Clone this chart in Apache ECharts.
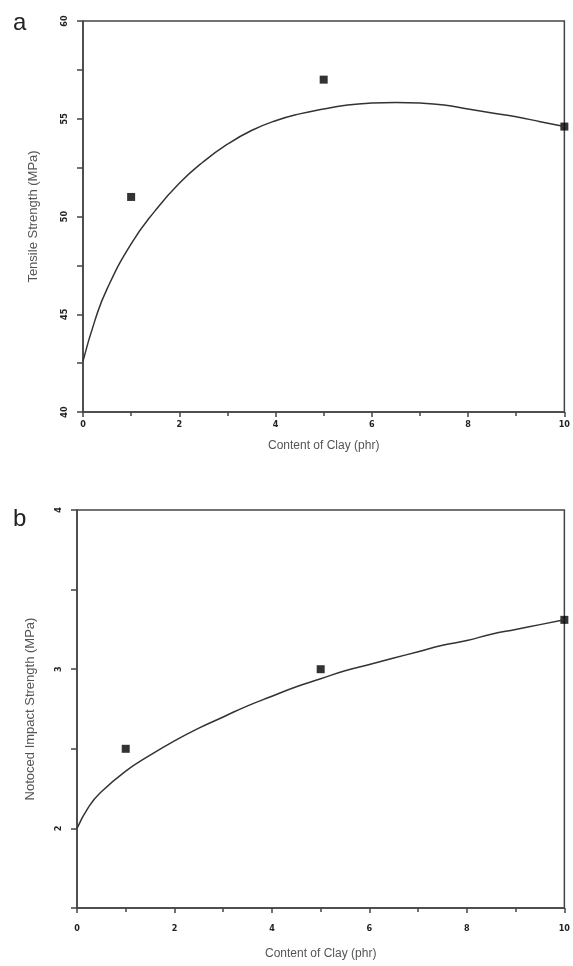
<!DOCTYPE html>
<html>
<head>
<meta charset="utf-8">
<script src="https://cdn.jsdelivr.net/npm/echarts@6/dist/echarts.min.js"></script>
<style>
  html, body { margin: 0; padding: 0; background: #fff; }
  #main { width: 573px; height: 966px; }
</style>
</head>
<body>
<div id="main"></div>
<script>
// panel a: tensile strength
const pointsAX = [1, 5, 10];
const pointsAY = [51.0, 57.0, 54.6];
const curveAX = [0, 0.25, 0.5, 1, 1.5, 2, 2.5, 3, 3.5, 4, 4.5, 5, 5.5, 6, 6.5, 7, 7.5, 8, 8.5, 9, 9.5, 10];
const curveAY = [42.6, 44.7, 46.3, 48.6, 50.3, 51.7, 52.8, 53.7, 54.4, 54.9, 55.25, 55.5, 55.7, 55.8, 55.83, 55.8, 55.7, 55.5, 55.3, 55.1, 54.85, 54.6];

// panel b: notched impact strength
const pointsBX = [1, 5, 10];
const pointsBY = [2.5, 3.0, 3.31];
const curveBX = [0, 0.25, 0.5, 1, 1.5, 2, 2.5, 3, 3.5, 4, 4.5, 5, 5.5, 6, 6.5, 7, 7.5, 8, 8.5, 9, 9.5, 10];
const curveBY = [2.0, 2.14, 2.23, 2.36, 2.46, 2.55, 2.63, 2.7, 2.77, 2.83, 2.89, 2.94, 2.99, 3.03, 3.07, 3.11, 3.15, 3.18, 3.22, 3.25, 3.28, 3.31];

const xTicks = { min: 0, max: 10, interval: 2 };

const zip = (xs, ys) => xs.map((x, i) => [x, ys[i]]);

const chart = echarts.init(document.getElementById("main"));

const axisColor = "#444";
const labelStyle = {
  color: "#222",
  fontSize: 9,
  fontWeight: "bold",
  fontFamily: "DejaVu Sans Condensed"
};
const titleStyle = {
  color: "#555",
  fontSize: 13,
  fontFamily: "Liberation Sans"
};

function xAxis(gridIndex, gap, labelMargin) {
  return {
    type: "value",
    gridIndex: gridIndex,
    min: xTicks.min,
    max: xTicks.max,
    interval: xTicks.interval,
    name: "Content of Clay (phr)",
    nameLocation: "middle",
    nameGap: gap,
    nameTextStyle: Object.assign({}, titleStyle, { fontSize: 12 }),
    axisLine: { show: true, lineStyle: { color: axisColor, width: 1.5 } },
    axisTick: { show: true, length: 5, lineStyle: { color: axisColor, width: 1.5 } },
    minorTick: { show: true, splitNumber: 2, length: 4, lineStyle: { color: axisColor, width: 1.5 } },
    axisLabel: Object.assign({ margin: labelMargin }, labelStyle),
    splitLine: { show: false }
  };
}

// y axis: ticks every half step, labels only on the given step
function yAxis(gridIndex, min, max, step, name, gap) {
  return {
    type: "value",
    gridIndex: gridIndex,
    min: min,
    max: max,
    interval: step / 2,
    name: name,
    nameLocation: "middle",
    nameGap: gap,
    nameTextStyle: titleStyle,
    axisLine: { show: true, lineStyle: { color: axisColor, width: 1.5 } },
    axisTick: { show: true, length: 6, lineStyle: { color: axisColor, width: 1.5 } },
    axisLabel: Object.assign({
      margin: 14,
      rotate: 90,
      formatter: v => (Math.abs(v / step - Math.round(v / step)) < 1e-6 ? String(v) : "")
    }, labelStyle),
    splitLine: { show: false }
  };
}

const option = {
  backgroundColor: "#fff",
  animation: false,
  title: [
    { text: "a", left: 8, top: 6, textStyle: { fontSize: 24, fontWeight: "normal", color: "#222", fontFamily: "Liberation Sans" } },
    { text: "b", left: 8, top: 502, textStyle: { fontSize: 24, fontWeight: "normal", color: "#222", fontFamily: "Liberation Sans" } }
  ],
  grid: [
    { left: 83, top: 21, right: 6, height: 391, show: true, borderColor: axisColor, borderWidth: 1.5 },
    { left: 77, top: 510, right: 6, height: 398, show: true, borderColor: axisColor, borderWidth: 1.5 }
  ],
  xAxis: [xAxis(0, 28, 8), xAxis(1, 40, 16)],
  yAxis: [
    yAxis(0, 40, 60, 5, "Tensile Strength (MPa)", 43),
    yAxis(1, 1.5, 4, 1, "Notoced Impact Strength (MPa)", 40)
  ],
  series: [
    {
      type: "line",
      xAxisIndex: 0,
      yAxisIndex: 0,
      data: zip(curveAX, curveAY),
      smooth: true,
      showSymbol: false,
      lineStyle: { color: "#333", width: 1.5 }
    },
    {
      type: "scatter",
      xAxisIndex: 0,
      yAxisIndex: 0,
      data: zip(pointsAX, pointsAY),
      symbol: "rect",
      symbolSize: 8,
      itemStyle: { color: "#000" }
    },
    {
      type: "line",
      xAxisIndex: 1,
      yAxisIndex: 1,
      data: zip(curveBX, curveBY),
      smooth: true,
      showSymbol: false,
      lineStyle: { color: "#333", width: 1.5 }
    },
    {
      type: "scatter",
      xAxisIndex: 1,
      yAxisIndex: 1,
      data: zip(pointsBX, pointsBY),
      symbol: "rect",
      symbolSize: 8,
      itemStyle: { color: "#000" }
    }
  ]
};

chart.setOption(option);
window.addEventListener("resize", () => {
  chart.resize();
});
</script>
</body>
</html>
